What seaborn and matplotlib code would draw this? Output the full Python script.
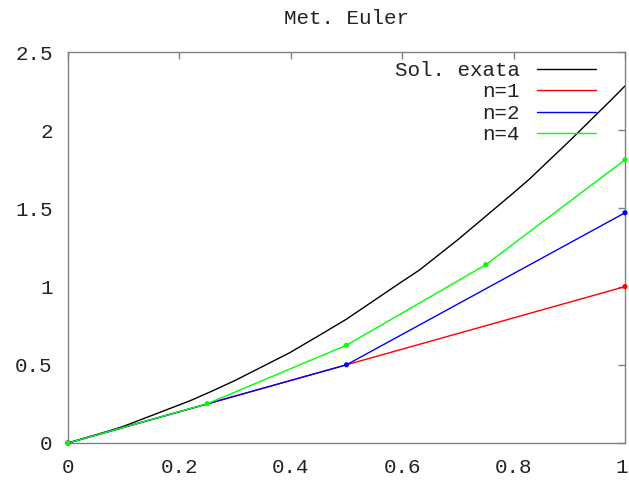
import matplotlib
matplotlib.use("Agg")
import matplotlib.pyplot as plt
import matplotlib.transforms as mtransforms
import seaborn as sns
import pandas as pd

# Exact solution
x_exata = [0.0, 0.075, 0.1, 0.2, 0.219, 0.255, 0.3, 0.398, 0.452, 0.5, 0.595,
           0.631, 0.7, 0.774, 0.8, 0.828, 0.9, 0.975, 1.0]
y_exata = [0.0, 0.079, 0.107, 0.244, 0.270, 0.326, 0.40, 0.577, 0.690, 0.792, 1.021,
           1.106, 1.300, 1.522, 1.60, 1.686, 1.93, 2.193, 2.283]

# Euler approximations
x_n1 = [0.0, 1.0]
y_n1 = [0.0, 1.0]
x_n2 = [0.0, 0.5, 1.0]
y_n2 = [0.0, 0.5, 1.472]
x_n4 = [0.0, 0.25, 0.5, 0.75, 1.0]
y_n4 = [0.0, 0.251, 0.625, 1.14, 1.811]

series = [
    ("Sol. exata", x_exata, y_exata, "#000000", False),
    ("n=1", x_n1, y_n1, "#ff0000", True),
    ("n=2", x_n2, y_n2, "#0000ff", True),
    ("n=4", x_n4, y_n4, "#00ff00", True),
]

x_ticks = [0, 0.2, 0.4, 0.6, 0.8, 1]
x_ticklabels = ["0", "0.2", "0.4", "0.6", "0.8", "1"]
y_ticks = [0, 0.5, 1, 1.5, 2, 2.5]
y_ticklabels = ["0", "0.5", "1", "1.5", "2", "2.5"]

sns.set_style("white")
plt.rcParams["font.family"] = ["Liberation Mono", "DejaVu Sans Mono"]

fig = plt.figure(figsize=(6.29, 4.80), dpi=100)
ax = fig.add_axes([68 / 629, 37 / 480, 557 / 629, 391 / 480])

for label, xs, ys, color, pts in series:
    df = pd.DataFrame({"x": xs, "y": ys})
    sns.lineplot(data=df, x="x", y="y", ax=ax, color=color, linewidth=1.0,
                 sort=False, estimator=None, label=label)
    if pts:
        sns.scatterplot(data=df, x="x", y="y", ax=ax, color=color, s=14,
                        edgecolor="none", legend=False, zorder=5, clip_on=False)

ax.set_xlim(0, 1)
ax.set_ylim(0, 2.5)
ax.set_xticks(x_ticks)
ax.set_xticklabels(x_ticklabels)
ax.set_yticks(y_ticks)
ax.set_yticklabels(y_ticklabels)
ax.set_xlabel("")
ax.set_ylabel("")

axis_gray = "#808080"
for s in ax.spines.values():
    s.set_visible(True)
    s.set_color(axis_gray)
    s.set_linewidth(1.0)
ax.tick_params(direction="in", length=5, width=1, color=axis_gray,
               top=True, right=True, labelsize=15, labelcolor="#222222")
ax.tick_params(axis="x", pad=11)
ax.tick_params(axis="y", pad=11)

# keep the last x tick label inside the canvas
last = ax.get_xticklabels()[-1]
last.set_transform(last.get_transform() +
                   mtransforms.ScaledTranslation(-3 / 100, 0, fig.dpi_scale_trans))

ax.set_title("Met. Euler", fontsize=15, color="#222222", pad=20)

leg = ax.legend(loc="upper right", bbox_to_anchor=(0.948, 0.977),
                frameon=False, markerfirst=False,
                fontsize=15, handlelength=2.85, handletextpad=0.8,
                labelspacing=0.12, borderaxespad=0.0, borderpad=0.0)
for t in leg.get_texts():
    t.set_color("#222222")

fig.savefig("out.png", dpi=100)
